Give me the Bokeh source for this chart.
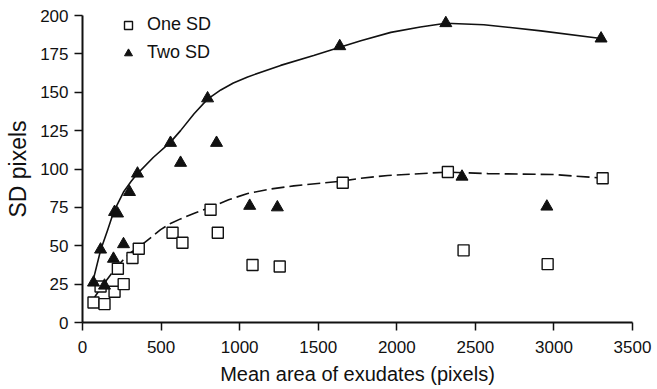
from bokeh.plotting import figure
from bokeh.models import Legend, LegendItem, Range1d, FixedTicker
from bokeh.embed import file_html
from bokeh.resources import INLINE

# One SD (open squares)
one_x = [70, 115, 140, 204, 225, 262, 318, 358, 573, 636, 815, 861, 1082, 1255, 1656, 2325, 2425, 2960, 3310]
one_y = [13, 23.5, 12, 20, 35, 25, 42, 48, 58.5, 52, 73.5, 58.5, 37.5, 36.5, 91, 98, 47, 38, 94]

# Two SD (filled triangles)
two_x = [70, 115, 140, 197, 204, 223, 261, 299, 350, 560, 624, 796, 853, 1064, 1240, 1637, 2312, 2415, 2955, 3300]
two_y = [26, 47.5, 24, 41.5, 72, 71, 51, 85, 97, 117, 104, 146, 117, 76, 75, 180, 195, 95, 75.5, 185]

# Fitted curves
fit_two_x = [64, 115, 159, 198, 261, 310, 350, 450, 560, 624, 710, 796, 880, 960, 1051, 1261, 1471, 1643, 1771, 1962, 2150, 2312, 2554, 2917, 3300]
fit_two_y = [26, 47, 60, 72, 85, 92, 97, 107.5, 117.5, 125, 136, 145.5, 151.5, 156, 160, 167.5, 174, 179.5, 183.5, 189, 192.5, 195, 194, 190, 185]

fit_one_x = [70, 134, 223, 306, 370, 497, 560, 624, 720, 815, 930, 1051, 1200, 1344, 1643, 1771, 1943, 2325, 2580, 3000, 3318]
fit_one_y = [15.5, 25, 37, 45.5, 50, 60.5, 64.5, 67.5, 71.5, 75, 80, 84, 87, 89, 92, 94, 95.8, 98, 97, 96.4, 94]

x_ticks = [0, 500, 1000, 1500, 2000, 2500, 3000, 3500]
y_ticks = [0, 25, 50, 75, 100, 125, 150, 175, 200]

FONT = "Liberation Sans"
INK = "#111111"

p = figure(width=655, height=387, output_backend="svg", toolbar_location=None,
           x_range=Range1d(0, 3500), y_range=Range1d(0, 200),
           min_border_left=82, min_border_right=23, min_border_top=15, min_border_bottom=65)
p.outline_line_color = None
p.grid.visible = False
p.background_fill_color = "white"

r_two_line = p.line(fit_two_x, fit_two_y, line_color=INK, line_width=1.6)
r_one_line = p.line(fit_one_x, fit_one_y, line_color=INK, line_width=1.6, line_dash="13 5")

r_one = p.scatter(one_x, one_y, marker="square", size=11, fill_color="white",
                  line_color=INK, line_width=1.4)
r_two = p.scatter(two_x, two_y, marker="triangle", size=12, fill_color=INK,
                  line_color=INK, line_width=1)

for ax in (p.xaxis[0], p.yaxis[0]):
    ax.axis_line_width = 2
    ax.axis_line_color = INK
    ax.major_tick_line_color = INK
    ax.major_tick_line_width = 1.5
    ax.major_tick_out = 8
    ax.major_tick_in = 0
    ax.minor_tick_line_color = None
    ax.major_label_text_font = FONT
    ax.major_label_text_font_size = "17px"
    ax.major_label_text_color = INK
    ax.axis_label_text_font = FONT
    ax.axis_label_text_font_style = "normal"
    ax.axis_label_text_color = INK

p.xaxis[0].axis_label_text_font_size = "20px"
p.yaxis[0].axis_label_text_font_size = "23px"
p.xaxis[0].ticker = FixedTicker(ticks=x_ticks)
p.yaxis[0].ticker = FixedTicker(ticks=y_ticks)
p.xaxis[0].axis_label = "Mean area of exudates (pixels)"
p.yaxis[0].axis_label = "SD pixels"
p.xaxis[0].major_label_standoff = 10
p.yaxis[0].major_label_standoff = 6
p.xaxis[0].axis_label_standoff = 7
p.yaxis[0].axis_label_standoff = 6

legend = Legend(items=[LegendItem(label="One SD", renderers=[r_one]),
                       LegendItem(label="Two SD", renderers=[r_two])],
                location=(36, 259), orientation="vertical")
legend.border_line_color = None
legend.background_fill_alpha = 0
legend.padding = 0
legend.spacing = 7
legend.glyph_width = 20
legend.glyph_height = 20
legend.label_height = 20
legend.label_standoff = 9
legend.label_text_font = FONT
legend.label_text_font_size = "18px"
legend.label_text_color = INK
p.add_layout(legend, "center")

open("out.html", "w").write(file_html(p, INLINE))
